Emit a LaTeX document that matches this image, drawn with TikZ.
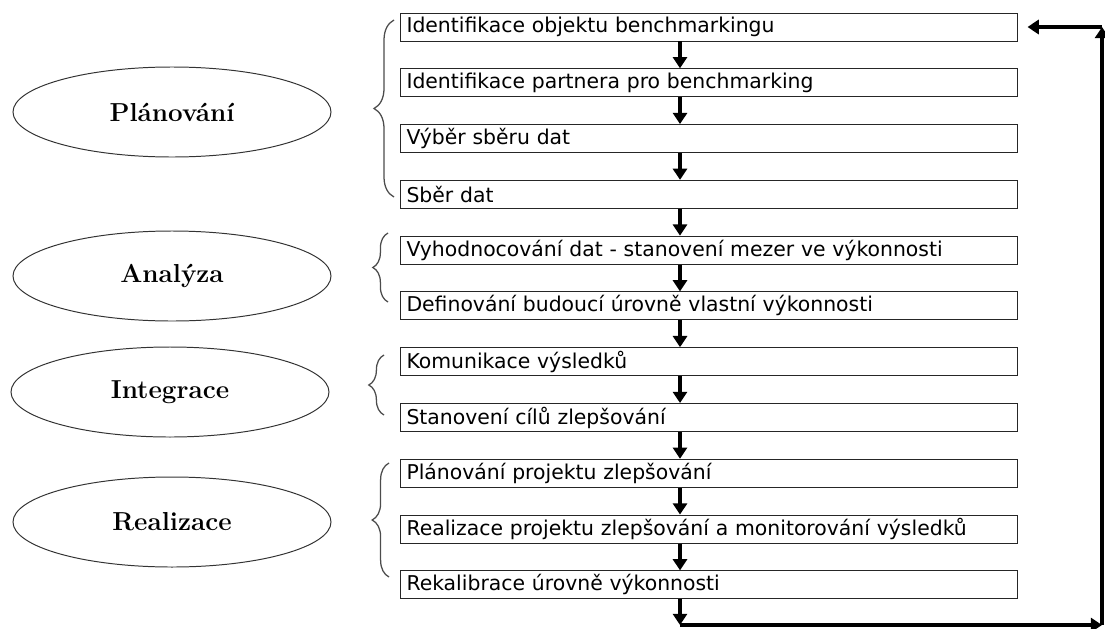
\documentclass[tikz,border=0pt]{standalone}
\usepackage{fontspec}
\setsansfont{DejaVu Sans}
\usetikzlibrary{shapes.geometric, arrows.meta, positioning, calc, decorations.pathreplacing}
\tikzset{
  % Phase ellipse on the left
  phase/.style={
    ellipse, draw=black!80, line width=0.7pt, minimum width=7.95cm, minimum height=2.25cm,
    font=\fontsize{18.5}{21}\selectfont\bfseries, inner sep=0pt
  },
  % Step box of the flow
  stepbox/.style={
    rectangle, draw=black!85, line width=0.7pt, minimum width=15.425cm, minimum height=0.7cm,
    text width=15.1cm, align=left, inner xsep=0.16cm, inner ysep=0pt,
    font=\sffamily\fontsize{14.5}{16}\selectfont
  },
  flowarr/.style={-{Triangle[length=8pt, width=10pt]}, line width=2.2pt},
  phasebrace/.style={decorate, decoration={brace, amplitude=#1}, draw=black!70, line width=0.9pt}
}

\begin{document}
\begin{tikzpicture}[x=0.25mm, y=-0.25mm]
  \useasboundingbox (0,0) rectangle (1105,628);

  % Phases
  \node[phase] (plan) at (172,112) {Plánování};
  \node[phase] (anal) at (172,276) {Analýza};
  \node[phase] (integ) at (170,392) {Integrace};
  \node[phase] (real) at (172,522) {Realizace};

  % Steps
  \node[stepbox] (b1) at (708.5,27) {Identifikace objektu benchmarkingu};
  \node[stepbox, below=0.67cm of b1] (b2) {Identifikace partnera pro benchmarking};
  \node[stepbox, below=0.67cm of b2] (b3) {Výběr sběru dat};
  \node[stepbox, below=0.67cm of b3] (b4) {Sběr dat};
  \node[stepbox, below=0.67cm of b4] (b5) {Vyhodnocování dat - stanovení mezer ve výkonnosti};
  \node[stepbox, below=0.67cm of b5] (b6) {Definování budoucí úrovně vlastní výkonnosti};
  \node[stepbox, below=0.67cm of b6] (b7) {Komunikace výsledků};
  \node[stepbox, below=0.67cm of b7] (b8) {Stanovení cílů zlepšování};
  \node[stepbox, below=0.67cm of b8] (b9) {Plánování projektu zlepšování};
  \node[stepbox, below=0.67cm of b9] (b10) {Realizace projektu zlepšování a monitorování výsledků};
  \node[stepbox, below=0.67cm of b10] (b11) {Rekalibrace úrovně výkonnosti};

  % Braces
  \draw[phasebrace=0.5cm] (394,197) -- (394,20);
  \draw[phasebrace=0.38cm] (388,302) -- (388,233);
  \draw[phasebrace=0.38cm] (384,415) -- (384,355);
  \draw[phasebrace=0.42cm] (389,577) -- (389,463);

  % Flow arrows
  \coordinate (spine) at (680,0);
  \draw[flowarr] (b1.south -| spine) -- (b2.north -| spine);
  \draw[flowarr] (b2.south -| spine) -- (b3.north -| spine);
  \draw[flowarr] (b3.south -| spine) -- (b4.north -| spine);
  \draw[flowarr] (b4.south -| spine) -- (b5.north -| spine);
  \draw[flowarr] (b5.south -| spine) -- (b6.north -| spine);
  \draw[flowarr] (b6.south -| spine) -- (b7.north -| spine);
  \draw[flowarr] (b7.south -| spine) -- (b8.north -| spine);
  \draw[flowarr] (b8.south -| spine) -- (b9.north -| spine);
  \draw[flowarr] (b9.south -| spine) -- (b10.north -| spine);
  \draw[flowarr] (b10.south -| spine) -- (b11.north -| spine);

  % Feedback loop
  \coordinate (c1) at (680,625);
  \coordinate (c2) at (1102,625);
  \coordinate (c3) at (1102,27);
  \draw[flowarr] (b11.south -| spine) -- (c1);
  \draw[flowarr] (c1) -- (c2);
  \draw[flowarr] (c2) -- (c3);
  \draw[flowarr, shorten >=0.25cm] (c3) -- (b1.east);
\end{tikzpicture}
\end{document}
